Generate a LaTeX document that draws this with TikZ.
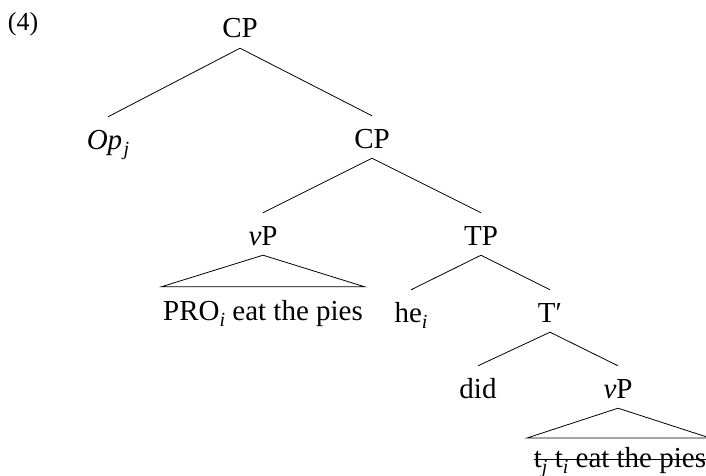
\documentclass[tikz,border=0pt]{standalone}
\usepackage{fontspec}
\setmainfont{Liberation Serif}
\newcommand\sbx[1]{\raisebox{-0.22em}{\fontsize{20}{20}\selectfont\itshape #1}}
\begin{document}
\begin{tikzpicture}[x=1pt,y=-1pt,
  lbl/.style={anchor=base,inner sep=0pt,font=\fontsize{29}{34}\selectfont,text height=32pt,text depth=10pt},
  leaf/.style={anchor=base,inner sep=0pt,font=\fontsize{29}{34}\selectfont,text depth=10pt},
  edge/.style={line width=0.8pt},
]
\useasboundingbox (0,0) rectangle (706,476);
\node[anchor=center,inner sep=0pt,font=\fontsize{26}{30}\selectfont] (num) at (23,24) {(4)};
\node[lbl] (cp1) at (240,38) {CP};
\node[lbl] (op) at (108,149) {\textit{Op}\kern1.5pt\sbx{j}};
\node[lbl] (cp2) at (372,148) {CP};
\node[lbl] (vp1) at (263,245) {\textit{v}P};
\node[lbl] (tp) at (481,245) {TP};
\node[leaf,text height=33pt,minimum width=203pt] (pro) at (263,320) {PRO\sbx{i} eat the pies};
\node[lbl] (he) at (411,322) {he\sbx{i}};
\node[lbl] (tbar) at (550,322) {T′};
\node[lbl] (did) at (478,398) {did};
\node[lbl] (vp2) at (618,398) {\textit{v}P};
\node[leaf,text height=0pt,text depth=0pt] (fin) at (620,467) {t\sbx{j} t\sbx{i} eat the pies};
\coordinate (finL) at (527,438);
\coordinate (finR) at (710,438);
\draw[edge] (cp1.south) -- (op.north);
\draw[edge] (cp1.south) -- (cp2.north);
\draw[edge] (cp2.south) -- (vp1.north);
\draw[edge] (cp2.south) -- (tp.north);
\draw[edge] (vp1.south) -- (pro.north west) -- (pro.north east) -- cycle;
\draw[edge] (tp.south) -- (he.north);
\draw[edge] (tp.south) -- (tbar.north);
\draw[edge] (tbar.south) -- (did.north);
\draw[edge] (tbar.south) -- (vp2.north);
\draw[edge] (vp2.south) -- (finL) -- (finR) -- cycle;
\draw[edge] ([yshift=8pt]fin.base west) -- ([yshift=8pt]fin.base east);
\end{tikzpicture}
\end{document}
